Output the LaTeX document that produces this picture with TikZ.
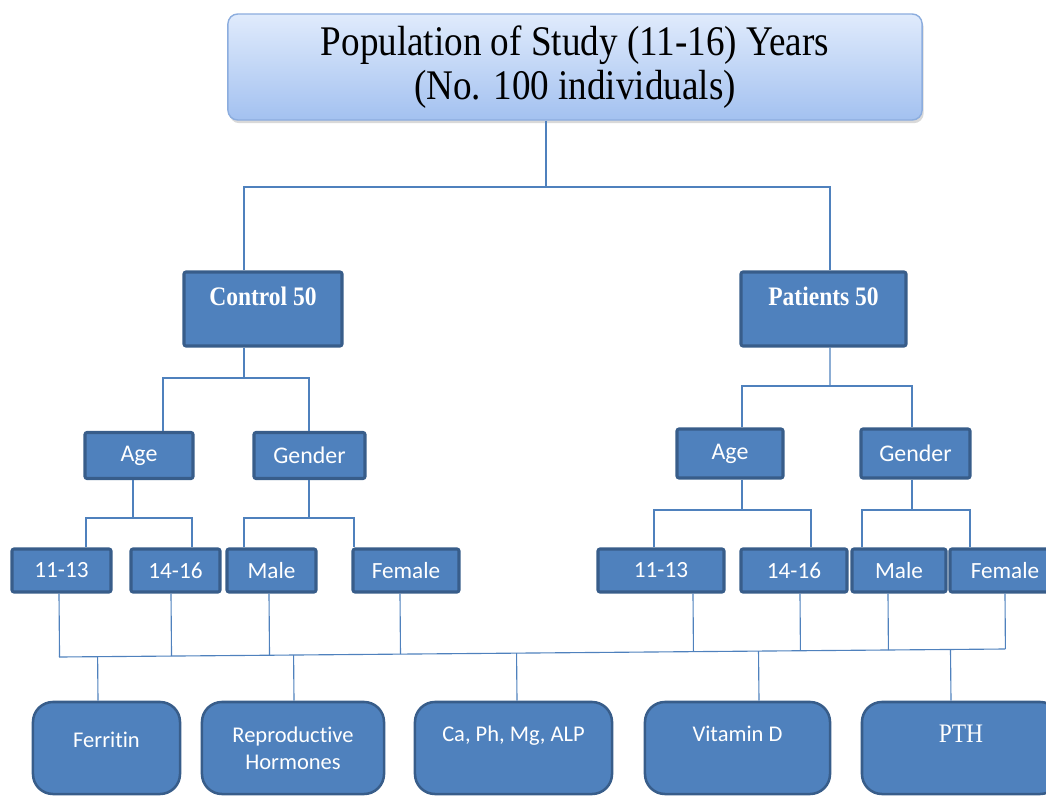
\documentclass[tikz,border=0pt]{standalone}
\usepackage{fontspec}
\setmainfont{Liberation Serif}
\newfontfamily\calibri[Ligatures=NoCommon]{Carlito}
\newfontfamily\narrowserif[FakeStretch=0.88]{Liberation Serif}
\usepackage{tikz}
\usetikzlibrary{shapes,arrows,calc,shadows}

\definecolor{boxblue}{RGB}{79,129,189}
\definecolor{boxedge}{RGB}{56,93,138}
\definecolor{linkblue}{RGB}{79,129,189}
\definecolor{topfill}{RGB}{224,235,252}
\definecolor{topfill2}{RGB}{163,193,240}
\definecolor{topedge}{RGB}{140,173,222}

\begin{document}
\begin{tikzpicture}[x=0.025cm, y=-0.025cm]
			\tikzstyle{Top}		= [rectangle, rounded corners=7pt, draw=topedge, line width=1pt, top color=topfill, bottom color=topfill2, drop shadow={opacity=0.3, shadow xshift=0.4mm, shadow yshift=-0.8mm}, font=\narrowserif\fontsize{30}{31}\selectfont, align=center, minimum width=17.35cm, minimum height=2.65cm, inner sep=0pt]
			\tikzstyle{Box}		= [rectangle, rounded corners=1.5pt, draw=boxedge, line width=2.2pt, fill=boxblue, text=white, inner sep=0pt]
			\tikzstyle{Group}	= [Box, font=\narrowserif\fontsize{19}{21}\selectfont\bfseries, text height=0.575cm, text depth=0.775cm, minimum height=1.85cm]
			\tikzstyle{Split}	= [Box, font=\calibri\fontsize{17}{20}\selectfont, minimum height=1.15cm]
			\tikzstyle{Leaf}	= [Box, font=\calibri\fontsize{16.5}{20}\selectfont, minimum height=1.075cm]
			\tikzstyle{Test}	= [Box, rounded corners=0.5cm, line width=1.8pt, font=\calibri\fontsize{16}{19.5}\selectfont, align=center, minimum height=2.3cm]
			\tikzstyle{Link}	= [line width=0.8pt, linkblue]

			\useasboundingbox (0,0) rectangle (1046,796);
			\clip (0,0) rectangle (1046,796);

			% study population
			\node (top) at (575,67) [Top] {Population of Study (11-16) Years\\(No. 100 individuals)};

			\node (ctrl) at (263,309) [Group][minimum width=3.95cm] {Control 50};
			\node (pat) at (823.5,309) [Group][minimum width=4.125cm] {Patients 50};

			\node (ageC) at (139,455.5) [Split][minimum width=2.7cm] {Age};
			\node (genC) at (309.5,455.5) [Split][minimum width=2.775cm] {Gender};
			\node (ageP) at (730,453.5) [Split][minimum width=2.65cm, minimum height=1.225cm] {Age};
			\node (genP) at (915.5,453.5) [Split][minimum width=2.725cm, minimum height=1.225cm] {Gender};

			\node (c1) at (61.5,570.5) [Leaf][minimum width=2.475cm] {11-13};
			\node (c2) at (175.5,570.5) [Leaf][minimum width=2.225cm] {14-16};
			\node (c3) at (271.5,570.5) [Leaf][minimum width=2.225cm] {Male};
			\node (c4) at (406,570.5) [Leaf][minimum width=2.65cm] {Female};
			\node (p1) at (661,570.5) [Leaf][minimum width=3.15cm] {11-13};
			\node (p2) at (794,570.5) [Leaf][minimum width=2.65cm] {14-16};
			\node (p3) at (899,570.5) [Leaf][minimum width=2.35cm] {Male};
			\node (p4) at (1005,570.5) [Leaf][minimum width=2.75cm] {Female};

			% measured parameters
			\node (t1) at (106.5,748) [Test][minimum width=3.675cm, text depth=0.4cm] {Ferritin};
			\node (t2) at (293,748) [Test][minimum width=4.55cm] {Reproductive\\Hormones};
			\node (t3) at (513.5,748) [Test][minimum width=4.925cm, text depth=0.7cm] {Ca, Ph, Mg, ALP};
			\node (t4) at (737.5,748) [Test][minimum width=4.625cm, text depth=0.7cm] {Vitamin D};
			\node (t5) at (961,748) [Test][minimum width=4.95cm, text depth=0.7cm, font=\narrowserif\fontsize{19}{21}\selectfont] {PTH};

			\coordinate (j0) at (546,187);
			\coordinate (j1) at (244,378);
			\coordinate (j2) at (133,518);
			\coordinate (j3) at (309,518);
			\coordinate (j4) at (830,386);
			\coordinate (j5) at (742,510);
			\coordinate (j6) at (912,510);

			\draw [-] ($(top.south)+(-29,0)$) to (j0) [Link];
			\draw [-] ($(ctrl.north)+(-19,0)$) |- (j0) -| ($(pat.north)+(6.5,0)$) [Link];
			\draw [-] ($(ctrl.south)+(-19,0)$) to (j1) [Link];
			\draw [-] ($(ageC.north)+(24,0)$) |- (j1) -| ($(genC.north)+(-0.5,0)$) [Link];
			\draw [-] ($(ageC.south)+(-6,0)$) to (j2) [Link];
			\draw [-] ($(c1.north)+(24.5,0)$) |- (j2) -| ($(c2.north)+(16.5,0)$) [Link];
			\draw [-] ($(genC.south)+(-0.5,0)$) to (j3) [Link];
			\draw [-] ($(c3.north)+(-27.5,0)$) |- (j3) -| ($(c4.north)+(-52,0)$) [Link];
			\draw [-] ($(pat.south)+(6.5,0)$) to (j4) [Link];
			\draw [-] ($(ageP.north)+(12,0)$) |- (j4) -| ($(genP.north)+(-3.5,0)$) [Link];
			\draw [-] ($(ageP.south)+(12,0)$) to (j5) [Link];
			\draw [-] ($(p1.north)+(-7,0)$) |- (j5) -| ($(p2.north)+(17,0)$) [Link];
			\draw [-] ($(genP.south)+(-3.5,0)$) to (j6) [Link];
			\draw [-] ($(p3.north)+(-37,0)$) |- (j6) -| ($(p4.north)+(-35,0)$) [Link];

			% common line to the parameters
			\coordinate (busL) at (59,657);
			\coordinate (busR) at (1005,649);
			\draw [-] (busL) to (busR) [Link];

			\coordinate (u1) at ($(c1.south)+(-2.5,0)$);
			\coordinate (u2) at ($(c2.south)+(-4.5,0)$);
			\coordinate (u3) at ($(c3.south)+(-2.5,0)$);
			\coordinate (u4) at ($(c4.south)+(-6,0)$);
			\coordinate (u5) at ($(p1.south)+(32,0)$);
			\coordinate (u6) at ($(p2.south)+(6,0)$);
			\coordinate (u7) at ($(p3.south)+(-11,0)$);
			\coordinate (u8) at (p4.south);
			\draw [-] (u1) to ($(busL)!(u1)!(busR)$) [Link];
			\draw [-] (u2) to ($(busL)!(u2)!(busR)$) [Link];
			\draw [-] (u3) to ($(busL)!(u3)!(busR)$) [Link];
			\draw [-] (u4) to ($(busL)!(u4)!(busR)$) [Link];
			\draw [-] (u5) to ($(busL)!(u5)!(busR)$) [Link];
			\draw [-] (u6) to ($(busL)!(u6)!(busR)$) [Link];
			\draw [-] (u7) to ($(busL)!(u7)!(busR)$) [Link];
			\draw [-] (u8) to ($(busL)!(u8)!(busR)$) [Link];

			\coordinate (d1) at ($(t1.north)+(-8.5,0)$);
			\coordinate (d2) at ($(t2.north)+(1,0)$);
			\coordinate (d3) at ($(t3.north)+(3.5,0)$);
			\coordinate (d4) at ($(t4.north)+(21.5,0)$);
			\coordinate (d5) at ($(t5.north)+(-10,0)$);
			\draw [-] (d1) to ($(busL)!(d1)!(busR)$) [Link];
			\draw [-] (d2) to ($(busL)!(d2)!(busR)$) [Link];
			\draw [-] (d3) to ($(busL)!(d3)!(busR)$) [Link];
			\draw [-] (d4) to ($(busL)!(d4)!(busR)$) [Link];
			\draw [-] (d5) to ($(busL)!(d5)!(busR)$) [Link];
		\end{tikzpicture}
\end{document}
